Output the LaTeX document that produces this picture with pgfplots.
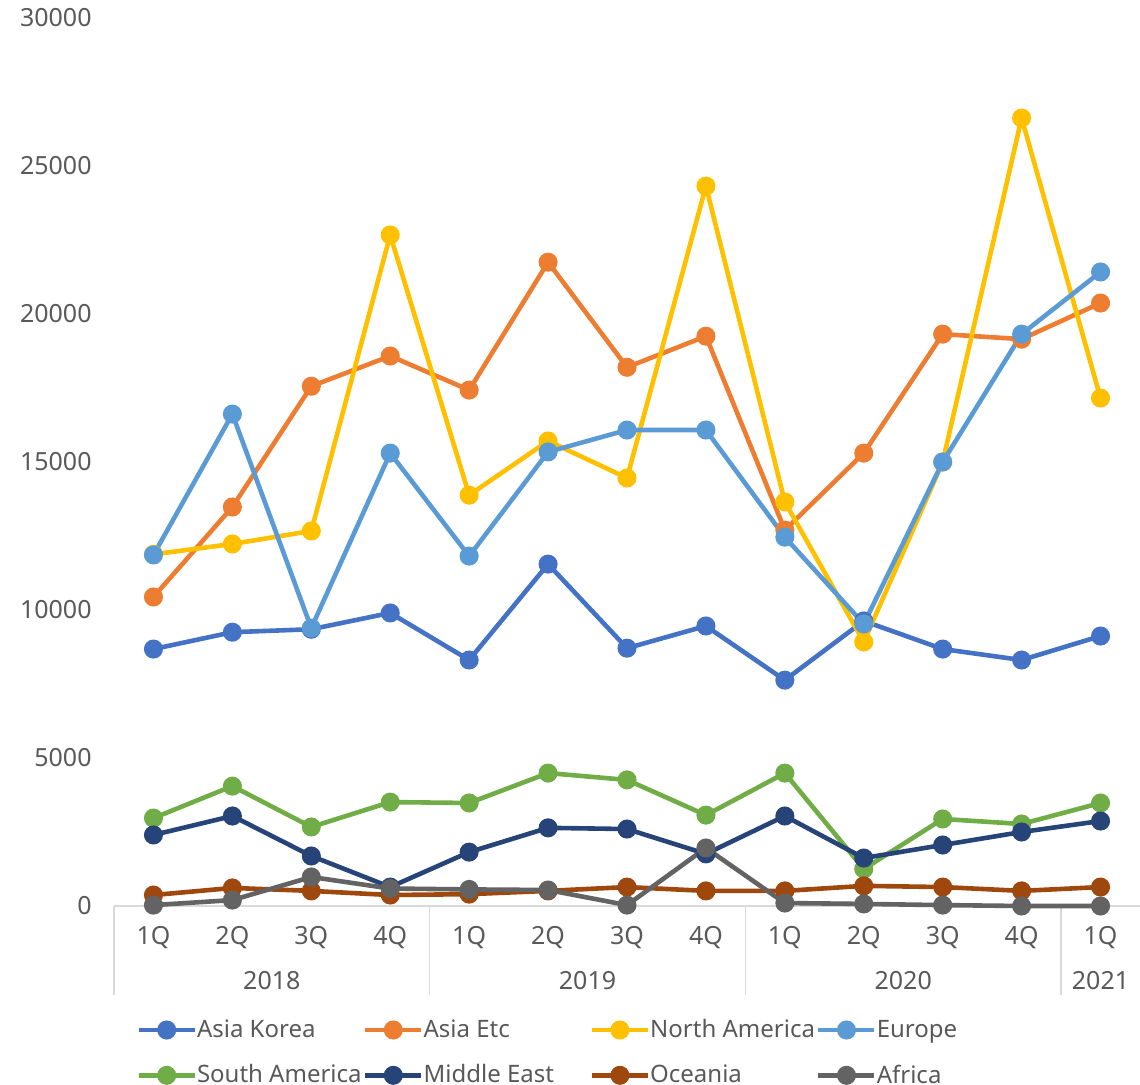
\documentclass[border=0pt]{standalone}
\usepackage{pgfplots}
\pgfplotsset{compat=1.18}
\usepackage{fontspec}
\setmainfont{Noto Sans}
\definecolor{cKorea}{HTML}{4472C4}
\definecolor{cEtc}{HTML}{ED7D31}
\definecolor{cNA}{HTML}{FFC000}
\definecolor{cEU}{HTML}{5B9BD5}
\definecolor{cSA}{HTML}{70AD47}
\definecolor{cME}{HTML}{264478}
\definecolor{cOC}{HTML}{9E480E}
\definecolor{cAF}{HTML}{636363}
\definecolor{txt}{HTML}{595959}
\definecolor{axl}{HTML}{D9D9D9}
\newcommand{\lt}[1]{\hspace*{-2pt}\makebox[81pt][l]{#1}}
\begin{document}
\begin{tikzpicture}
\path[use as bounding box] (-57pt,-89.5pt) rectangle (513pt,453pt);
% axis decorations (axis spans 0..513pt x 0..444pt)
\draw[axl, line width=0.8pt] (0pt,0pt) -- (513pt,0pt);
\foreach \x in {0,4,8,12} {\draw[axl, line width=0.8pt] (\x*39.4615pt,0pt) -- ++(0,-44.5pt);}
\foreach \p/\y in {0/0,1/5000,2/10000,3/15000,4/20000,5/25000,6/30000} {\node[anchor=east, text=txt, inner sep=0pt, font=\fontsize{12.5}{15}\selectfont] at (-11pt,\p*74pt) {\y};}
\foreach \x/\l in {0/1Q,1/2Q,2/3Q,3/4Q,4/1Q,5/2Q,6/3Q,7/4Q,8/1Q,9/2Q,10/3Q,11/4Q,12/1Q} {\node[text=txt, inner sep=0pt, font=\fontsize{12.5}{15}\selectfont] at (\x*39.4615pt+19.73pt,-16pt) {\l};}
\foreach \x/\l in {1.5/2018,5.5/2019,9.5/2020,12/2021} {\node[text=txt, inner sep=0pt, font=\fontsize{12.5}{15}\selectfont] at (\x*39.4615pt+19.73pt,-37.5pt) {\l};}
\begin{axis}[
  at={(0pt,0pt)}, anchor=south west,
  scale only axis, width=513pt, height=444pt,
  xmin=-0.5, xmax=12.5, ymin=0, ymax=30000,
  axis lines=none,
  clip=false,
  font=\fontsize{12.5}{15}\selectfont,
  every axis plot/.append style={line width=2.3pt, mark=*, mark size=3.6pt},
  legend columns=4,
  legend cell align=left,
  legend image code/.code={\draw[#1,mark repeat=2,mark phase=2] plot coordinates {(0pt,0pt) (14pt,0pt) (28pt,0pt)};},
  legend style={draw=none, fill=none, at={(0,0)}, anchor=north west, xshift=8pt, yshift=-52.5pt,
    font=\fontsize{12}{14.5}\selectfont, text=txt,
    /tikz/every even column/.append style={column sep=0pt},
    /tikz/every odd column/.append style={column sep=0pt},
    row sep=8pt},
]
\addplot[cKorea] coordinates {(0,8680)(1,9250)(2,9350)(3,9900)(4,8310)(5,11550)(6,8710)(7,9460)(8,7630)(9,9630)(10,8680)(11,8310)(12,9120)};
\addlegendentry{\lt{Asia Korea}}
\addplot[cEtc] coordinates {(0,10440)(1,13480)(2,17560)(3,18580)(4,17430)(5,21750)(6,18200)(7,19250)(8,12700)(9,15300)(10,19320)(11,19150)(12,20370)};
\addlegendentry{\lt{Asia Etc}}
\addplot[cNA] coordinates {(0,11880)(1,12230)(2,12670)(3,22670)(4,13880)(5,15710)(6,14460)(7,24320)(8,13650)(9,8920)(10,15000)(11,26620)(12,17160)};
\addlegendentry{\lt{North America}}
\addplot[cEU] coordinates {(0,11860)(1,16620)(2,9390)(3,15300)(4,11820)(5,15340)(6,16080)(7,16080)(8,12460)(9,9530)(10,15000)(11,19320)(12,21420)};
\addlegendentry{\lt{Europe}}
\addplot[cSA] coordinates {(0,2970)(1,4050)(2,2670)(3,3510)(4,3480)(5,4490)(6,4260)(7,3070)(8,4490)(9,1250)(10,2940)(11,2770)(12,3480)};
\addlegendentry{\lt{South America}}
\addplot[cME] coordinates {(0,2400)(1,3040)(2,1690)(3,640)(4,1820)(5,2640)(6,2600)(7,1760)(8,3040)(9,1620)(10,2060)(11,2500)(12,2870)};
\addlegendentry{\lt{Middle East}}
\addplot[cOC] coordinates {(0,370)(1,610)(2,510)(3,370)(4,400)(5,510)(6,640)(7,510)(8,510)(9,680)(10,640)(11,510)(12,640)};
\addlegendentry{\lt{Oceania}}
\addplot[cAF] coordinates {(0,30)(1,200)(2,980)(3,590)(4,560)(5,540)(6,30)(7,1960)(8,100)(9,70)(10,30)(11,0)(12,0)};
\addlegendentry{\lt{Africa}}
\end{axis}
\end{tikzpicture}
\end{document}
